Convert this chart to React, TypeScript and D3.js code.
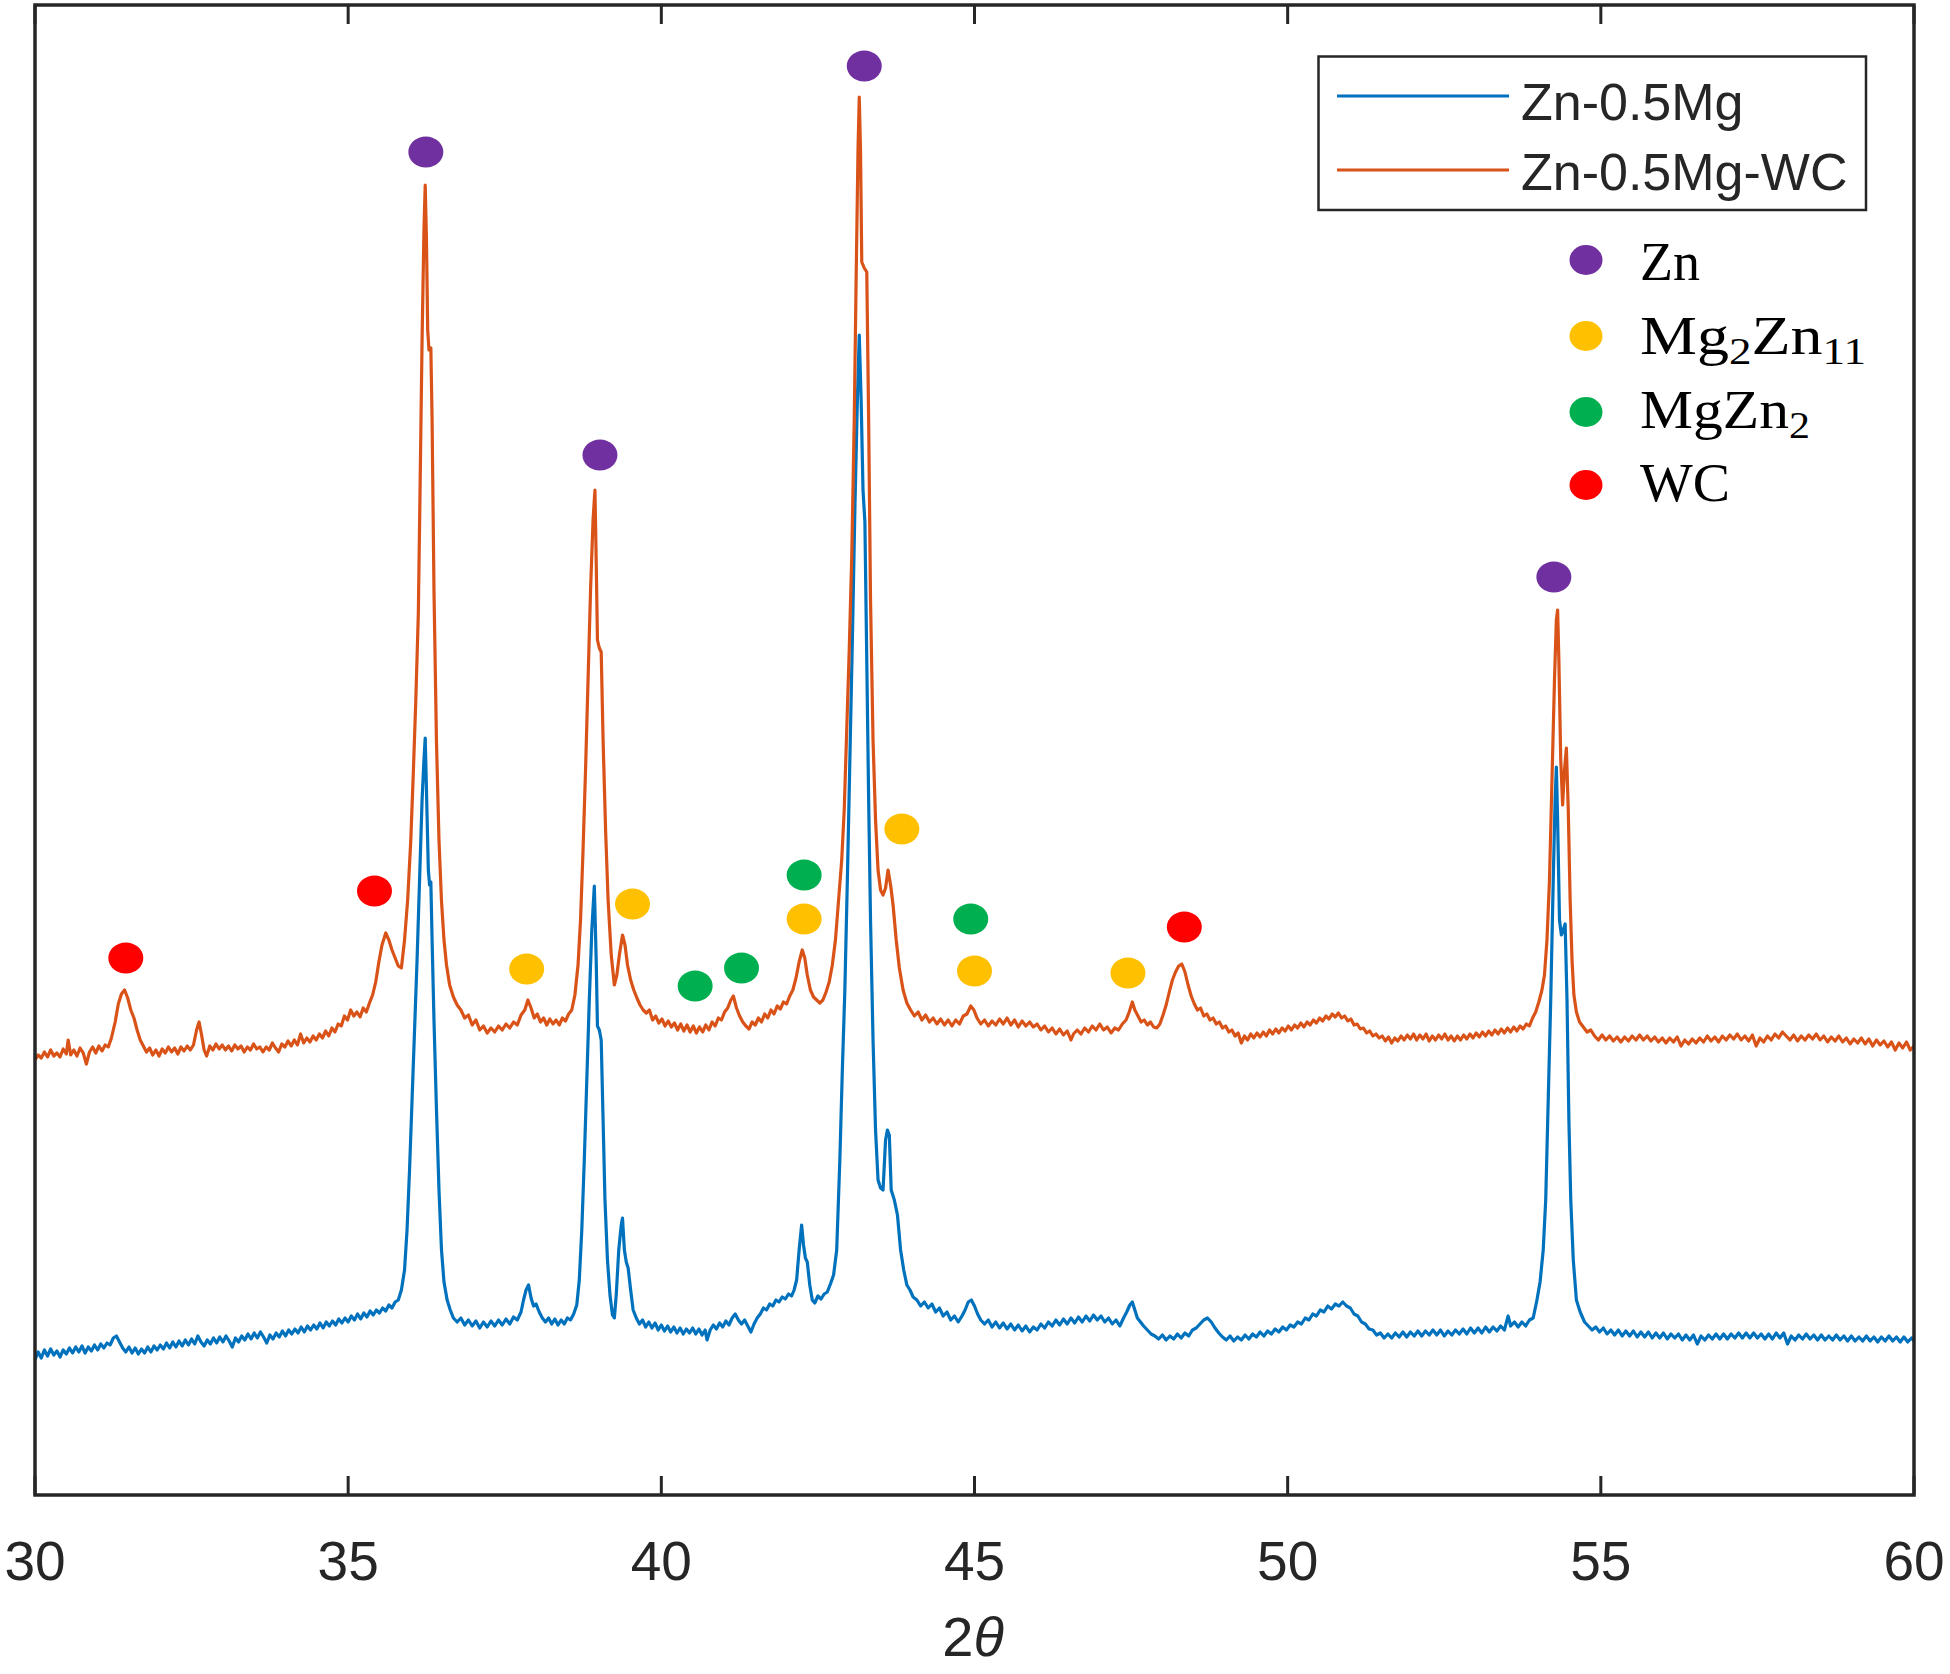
import React from "react";
import * as d3 from "d3";

// ---------------- DATA ----------------
const X_TICKS = [30, 35, 40, 45, 50, 55, 60];
const SERIES_NAMES = ["Zn-0.5Mg", "Zn-0.5Mg-WC"];

// Zn-0.5Mg (blue): [2θ, intensity a.u.]
const ZN_MG: [number, number][] = [
[30.00,140],[30.05,148],[30.10,142],[30.15,150],[30.20,144],[30.25,151],[30.30,145],[30.35,149],[30.40,143],[30.45,150],
[30.50,146],[30.55,152],[30.60,147],[30.65,153],[30.70,148],[30.75,154],[30.80,147],[30.85,153],[30.90,149],[30.95,155],
[31.00,150],[31.05,156],[31.10,152],[31.15,157],[31.20,155],[31.25,162],[31.30,164],[31.35,158],[31.40,152],[31.45,148],
[31.50,153],[31.55,147],[31.60,152],[31.65,146],[31.70,151],[31.75,147],[31.80,153],[31.85,148],[31.90,154],[31.95,150],
[32.00,155],[32.05,151],[32.10,157],[32.15,152],[32.20,158],[32.25,153],[32.30,159],[32.35,154],[32.40,160],[32.45,155],
[32.50,161],[32.55,156],[32.60,164],[32.65,158],[32.70,154],[32.75,160],[32.80,156],[32.85,162],[32.90,157],[32.95,163],
[33.00,158],[33.05,164],[33.10,159],[33.15,153],[33.20,162],[33.25,158],[33.30,164],[33.35,160],[33.40,166],[33.45,161],
[33.50,167],[33.55,162],[33.60,168],[33.65,163],[33.70,157],[33.75,165],[33.80,161],[33.85,167],[33.90,163],[33.95,169],
[34.00,164],[34.05,170],[34.10,166],[34.15,171],[34.20,167],[34.25,173],[34.30,168],[34.35,174],[34.40,170],[34.45,175],
[34.50,171],[34.55,177],[34.60,172],[34.65,178],[34.70,174],[34.75,179],[34.80,175],[34.85,181],[34.90,177],[34.95,182],
[35.00,178],[35.05,184],[35.10,180],[35.15,186],[35.20,181],[35.25,187],[35.30,183],[35.35,189],[35.40,185],[35.45,190],
[35.50,187],[35.55,192],[35.60,189],[35.65,195],[35.70,192],[35.75,198],[35.80,200],[35.85,210],[35.90,230],[35.94,270],
[35.98,330],[36.02,400],[36.06,470],[36.10,540],[36.14,620],[36.18,700],[36.21,740],[36.23,762],[36.25,710],[36.28,630],
[36.30,615],[36.32,618],[36.34,560],[36.37,480],[36.41,390],[36.45,310],[36.49,250],[36.53,218],[36.58,200],[36.63,190],
[36.68,182],[36.74,178],[36.80,182],[36.86,175],[36.92,180],[36.98,174],[37.04,179],[37.10,172],[37.16,178],[37.22,173],
[37.28,179],[37.34,174],[37.40,180],[37.46,175],[37.52,181],[37.58,176],[37.64,183],[37.70,180],[37.76,188],[37.80,200],
[37.84,210],[37.88,215],[37.92,202],[37.96,194],[38.00,196],[38.05,188],[38.10,182],[38.15,178],[38.20,182],[38.25,176],
[38.30,181],[38.35,175],[38.40,180],[38.45,176],[38.50,182],[38.55,180],[38.60,186],[38.65,195],[38.69,220],[38.73,270],
[38.77,340],[38.81,420],[38.85,500],[38.89,570],[38.93,614],[38.96,540],[38.98,474],[39.01,470],[39.04,460],[39.07,380],
[39.10,300],[39.14,240],[39.18,205],[39.22,185],[39.25,182],[39.28,205],[39.32,250],[39.36,275],[39.38,282],[39.41,250],
[39.44,238],[39.47,232],[39.51,210],[39.55,190],[39.60,182],[39.65,176],[39.70,180],[39.75,173],[39.80,178],[39.85,172],
[39.90,177],[39.95,170],[40.00,175],[40.05,169],[40.10,174],[40.15,168],[40.20,173],[40.25,167],[40.30,172],[40.35,166],
[40.40,171],[40.45,167],[40.50,172],[40.55,166],[40.60,171],[40.65,165],[40.70,170],[40.73,160],[40.78,170],[40.83,175],
[40.88,171],[40.93,177],[40.98,173],[41.03,179],[41.08,175],[41.13,182],[41.18,186],[41.23,180],[41.28,176],[41.33,180],
[41.38,174],[41.43,168],[41.48,176],[41.53,182],[41.58,186],[41.63,192],[41.68,190],[41.73,196],[41.78,194],[41.83,200],
[41.88,198],[41.93,203],[41.98,201],[42.03,206],[42.08,204],[42.12,210],[42.16,220],[42.20,250],[42.24,275],[42.27,255],
[42.30,242],[42.33,238],[42.37,215],[42.41,200],[42.45,197],[42.50,204],[42.55,201],[42.60,206],[42.65,208],[42.70,216],
[42.75,225],[42.80,250],[42.85,340],[42.89,430],[42.93,510],[42.97,620],[43.01,740],[43.05,860],[43.09,990],[43.13,1100],
[43.16,1165],[43.19,1100],[43.22,1010],[43.25,978],[43.28,840],[43.31,700],[43.34,580],[43.38,460],[43.42,370],[43.46,320],
[43.50,312],[43.54,310],[43.58,360],[43.61,370],[43.64,365],[43.67,310],[43.72,300],[43.77,285],[43.82,250],[43.87,230],
[43.92,215],[43.97,210],[44.02,203],[44.08,200],[44.14,194],[44.20,198],[44.26,192],[44.32,196],[44.38,188],[44.44,192],
[44.50,184],[44.56,188],[44.62,180],[44.68,184],[44.74,178],[44.80,184],[44.85,190],[44.90,198],[44.95,200],[45.00,194],
[45.05,186],[45.10,180],[45.16,176],[45.22,180],[45.28,173],[45.34,178],[45.40,172],[45.46,177],[45.52,171],[45.58,176],
[45.64,170],[45.70,175],[45.76,169],[45.82,174],[45.88,168],[45.94,173],[46.00,170],[46.06,176],[46.12,172],[46.18,178],
[46.24,174],[46.30,180],[46.36,175],[46.42,181],[46.48,176],[46.54,182],[46.60,177],[46.66,183],[46.72,178],[46.78,184],
[46.84,179],[46.90,185],[46.96,180],[47.02,184],[47.08,178],[47.14,182],[47.20,176],[47.26,180],[47.32,174],[47.38,182],
[47.43,188],[47.48,195],[47.52,198],[47.56,190],[47.60,182],[47.65,178],[47.70,174],[47.76,170],[47.82,166],[47.88,164],
[47.94,161],[48.00,165],[48.06,160],[48.12,164],[48.18,161],[48.24,166],[48.30,162],[48.36,167],[48.42,164],[48.48,170],
[48.54,172],[48.60,176],[48.66,180],[48.72,182],[48.78,178],[48.84,172],[48.90,167],[48.96,163],[49.02,160],[49.08,164],
[49.14,159],[49.20,163],[49.26,160],[49.32,165],[49.38,161],[49.44,166],[49.50,163],[49.56,168],[49.62,164],[49.68,169],
[49.74,166],[49.80,171],[49.86,168],[49.92,173],[49.98,170],[50.04,175],[50.10,173],[50.16,178],[50.22,176],[50.28,182],
[50.34,180],[50.40,186],[50.46,184],[50.52,190],[50.58,188],[50.64,194],[50.70,191],[50.76,196],[50.82,194],[50.88,198],
[50.94,194],[51.00,192],[51.06,186],[51.12,184],[51.18,178],[51.24,176],[51.30,171],[51.36,170],[51.42,165],[51.48,167],
[51.54,162],[51.60,166],[51.66,162],[51.72,167],[51.78,163],[51.84,168],[51.90,163],[51.96,168],[52.02,164],[52.08,169],
[52.14,164],[52.20,169],[52.26,165],[52.32,170],[52.38,165],[52.44,170],[52.50,164],[52.56,169],[52.62,165],[52.68,170],
[52.74,166],[52.80,171],[52.86,166],[52.92,172],[52.98,167],[53.04,172],[53.10,167],[53.16,173],[53.22,168],[53.28,173],
[53.34,169],[53.40,174],[53.46,170],[53.52,184],[53.56,174],[53.62,178],[53.68,173],[53.74,178],[53.80,174],[53.86,180],
[53.92,182],[53.98,200],[54.03,218],[54.08,250],[54.12,300],[54.16,400],[54.20,500],[54.24,620],[54.27,700],[54.29,733],
[54.31,680],[54.34,580],[54.37,565],[54.40,570],[54.43,576],[54.46,500],[54.49,380],[54.52,300],[54.56,240],[54.61,200],
[54.67,188],[54.74,178],[54.80,174],[54.86,170],[54.92,173],[54.98,168],[55.04,172],[55.10,166],[55.16,170],[55.22,165],
[55.28,170],[55.34,164],[55.40,169],[55.46,164],[55.52,169],[55.58,163],[55.64,168],[55.70,163],[55.76,168],[55.82,162],
[55.88,167],[55.94,162],[56.00,167],[56.06,161],[56.12,166],[56.18,162],[56.24,166],[56.30,160],[56.36,165],[56.42,160],
[56.48,165],[56.54,156],[56.60,164],[56.66,160],[56.72,165],[56.78,161],[56.84,166],[56.90,161],[56.96,166],[57.02,161],
[57.08,166],[57.14,162],[57.20,167],[57.26,162],[57.32,167],[57.38,162],[57.44,167],[57.50,162],[57.56,166],[57.62,161],
[57.68,166],[57.74,161],[57.80,167],[57.86,162],[57.92,167],[57.98,156],[58.04,164],[58.10,160],[58.16,165],[58.22,161],
[58.28,166],[58.34,161],[58.40,165],[58.46,160],[58.52,165],[58.58,160],[58.64,164],[58.70,160],[58.76,165],[58.82,160],
[58.88,164],[58.94,159],[59.00,164],[59.06,159],[59.12,163],[59.18,159],[59.24,164],[59.30,159],[59.36,163],[59.42,158],
[59.48,163],[59.54,159],[59.60,164],[59.66,159],[59.72,163],[59.78,158],[59.84,163],[59.90,158],[59.96,162],[60.00,159]
];

// Zn-0.5Mg-WC (orange): [2θ, intensity a.u.]
const ZN_MG_WC: [number, number][] = [
[30.00,440],[30.05,445],[30.10,442],[30.15,448],[30.20,443],[30.25,450],[30.30,444],[30.35,447],[30.40,443],[30.45,451],
[30.50,446],[30.53,460],[30.57,445],[30.62,450],[30.67,444],[30.72,452],[30.77,447],[30.82,436],[30.87,448],[30.92,453],
[30.97,447],[31.02,454],[31.07,449],[31.12,455],[31.17,453],[31.22,462],[31.28,478],[31.33,496],[31.38,506],[31.43,510],
[31.48,502],[31.53,490],[31.58,482],[31.63,470],[31.68,460],[31.73,454],[31.78,448],[31.83,452],[31.88,445],[31.93,450],
[31.98,444],[32.03,451],[32.08,447],[32.13,453],[32.18,448],[32.23,452],[32.28,446],[32.33,453],[32.38,449],[32.43,454],
[32.48,450],[32.53,455],[32.58,470],[32.62,478],[32.66,465],[32.70,450],[32.74,444],[32.79,454],[32.84,450],[32.89,456],
[32.94,451],[32.99,455],[33.04,450],[33.09,454],[33.14,449],[33.19,455],[33.24,451],[33.29,454],[33.34,448],[33.39,453],
[33.44,450],[33.49,456],[33.54,451],[33.59,453],[33.64,448],[33.69,453],[33.74,450],[33.79,457],[33.84,452],[33.89,448],
[33.94,456],[33.99,453],[34.04,459],[34.09,454],[34.14,460],[34.19,455],[34.24,466],[34.29,457],[34.34,462],[34.39,458],
[34.44,464],[34.49,460],[34.54,466],[34.59,462],[34.64,469],[34.69,464],[34.74,472],[34.79,468],[34.84,476],[34.89,474],
[34.94,484],[34.99,480],[35.04,490],[35.09,484],[35.14,488],[35.19,483],[35.24,492],[35.29,488],[35.34,497],[35.39,505],
[35.44,518],[35.49,538],[35.54,555],[35.60,567],[35.65,560],[35.70,550],[35.75,542],[35.80,534],[35.85,532],[35.90,560],
[35.95,600],[36.00,660],[36.04,727],[36.08,800],[36.12,886],[36.15,1020],[36.18,1160],[36.21,1270],[36.23,1315],[36.25,1260],
[36.27,1170],[36.29,1150],[36.32,1152],[36.34,1080],[36.37,910],[36.41,758],[36.45,660],[36.49,599],[36.53,560],[36.57,535],
[36.62,515],[36.68,503],[36.74,495],[36.80,490],[36.86,482],[36.92,485],[36.98,475],[37.04,480],[37.10,470],[37.16,474],
[37.22,467],[37.28,472],[37.34,468],[37.40,474],[37.46,470],[37.52,476],[37.58,472],[37.64,478],[37.70,475],[37.76,485],
[37.82,490],[37.87,500],[37.92,492],[37.97,482],[38.02,486],[38.07,478],[38.12,482],[38.17,475],[38.22,481],[38.27,476],
[38.32,480],[38.37,475],[38.42,482],[38.47,479],[38.52,486],[38.57,490],[38.62,505],[38.67,535],[38.71,580],[38.75,650],
[38.79,730],[38.83,820],[38.87,910],[38.91,980],[38.94,1010],[38.96,940],[38.98,860],[39.01,852],[39.04,848],[39.07,760],
[39.11,670],[39.15,600],[39.20,545],[39.25,515],[39.29,525],[39.33,545],[39.38,565],[39.42,555],[39.46,535],[39.51,520],
[39.56,510],[39.61,502],[39.66,495],[39.71,490],[39.76,487],[39.81,490],[39.86,480],[39.91,484],[39.96,477],[40.01,481],
[40.06,474],[40.11,479],[40.16,473],[40.21,477],[40.26,470],[40.31,476],[40.36,469],[40.41,475],[40.46,468],[40.51,474],
[40.56,467],[40.61,473],[40.66,468],[40.71,475],[40.76,470],[40.81,478],[40.86,474],[40.91,482],[40.96,480],[41.01,488],
[41.06,492],[41.11,500],[41.15,504],[41.20,492],[41.25,484],[41.30,478],[41.35,474],[41.40,471],[41.45,478],[41.50,475],
[41.55,482],[41.60,478],[41.65,486],[41.70,482],[41.75,490],[41.80,486],[41.85,494],[41.90,491],[41.95,498],[42.00,496],
[42.05,504],[42.10,510],[42.15,522],[42.20,538],[42.25,550],[42.29,542],[42.33,525],[42.38,510],[42.43,503],[42.48,500],
[42.53,497],[42.58,500],[42.63,508],[42.68,518],[42.73,535],[42.78,560],[42.83,600],[42.88,640],[42.92,690],[42.96,770],
[43.00,850],[43.04,943],[43.08,1080],[43.11,1220],[43.14,1350],[43.16,1403],[43.18,1350],[43.20,1238],[43.24,1232],[43.28,1228],
[43.31,1080],[43.34,900],[43.38,760],[43.42,680],[43.46,630],[43.50,610],[43.54,605],[43.58,612],[43.62,630],[43.66,615],
[43.70,595],[43.75,560],[43.80,532],[43.86,510],[43.92,497],[43.98,490],[44.04,484],[44.10,488],[44.16,480],[44.22,485],
[44.28,478],[44.34,482],[44.40,476],[44.46,481],[44.52,475],[44.58,480],[44.64,474],[44.70,480],[44.76,476],[44.82,484],
[44.88,486],[44.94,494],[44.99,490],[45.04,482],[45.10,476],[45.16,480],[45.22,474],[45.28,479],[45.34,475],[45.40,481],
[45.46,476],[45.52,482],[45.58,475],[45.64,480],[45.70,473],[45.76,479],[45.82,474],[45.88,478],[45.94,473],[46.00,476],
[46.06,470],[46.12,474],[46.18,468],[46.24,472],[46.30,466],[46.36,471],[46.42,465],[46.48,469],[46.54,460],[46.58,466],
[46.64,470],[46.70,466],[46.76,472],[46.82,468],[46.88,474],[46.94,470],[47.00,476],[47.06,470],[47.12,473],[47.18,467],
[47.24,472],[47.30,470],[47.36,476],[47.42,480],[47.47,488],[47.52,498],[47.56,490],[47.61,484],[47.66,478],[47.71,480],
[47.76,475],[47.81,478],[47.86,473],[47.91,472],[47.96,476],[48.01,485],[48.06,495],[48.11,508],[48.16,520],[48.21,528],
[48.26,534],[48.31,536],[48.36,528],[48.41,515],[48.46,504],[48.51,496],[48.56,490],[48.61,492],[48.66,484],[48.71,486],
[48.76,480],[48.81,482],[48.86,476],[48.91,478],[48.96,472],[49.01,474],[49.06,468],[49.11,470],[49.16,464],[49.21,467],
[49.26,457],[49.31,464],[49.36,460],[49.41,466],[49.46,462],[49.51,467],[49.56,463],[49.61,468],[49.66,464],[49.71,470],
[49.76,466],[49.81,471],[49.86,467],[49.91,472],[49.96,469],[50.01,474],[50.06,470],[50.11,475],[50.16,472],[50.21,477],
[50.26,473],[50.31,478],[50.36,475],[50.41,480],[50.46,477],[50.51,482],[50.56,479],[50.61,484],[50.66,481],[50.71,486],
[50.76,483],[50.81,487],[50.86,482],[50.91,484],[50.96,479],[51.01,481],[51.06,475],[51.11,476],[51.16,471],[51.21,472],
[51.26,467],[51.31,469],[51.36,464],[51.41,466],[51.46,462],[51.51,464],[51.56,459],[51.61,463],[51.66,457],[51.71,462],
[51.76,459],[51.81,464],[51.86,460],[51.91,465],[51.96,461],[52.01,466],[52.06,460],[52.11,465],[52.16,461],[52.21,466],
[52.26,459],[52.31,464],[52.36,460],[52.41,465],[52.46,461],[52.51,466],[52.56,460],[52.61,464],[52.66,459],[52.71,464],
[52.76,460],[52.81,465],[52.86,461],[52.91,466],[52.96,462],[53.01,467],[53.06,463],[53.11,468],[53.16,464],[53.21,469],
[53.26,465],[53.31,470],[53.36,466],[53.41,471],[53.46,467],[53.51,472],[53.56,468],[53.61,473],[53.66,469],[53.71,474],
[53.76,471],[53.81,476],[53.86,474],[53.91,482],[53.96,488],[54.01,498],[54.06,510],[54.10,525],[54.14,560],[54.18,620],
[54.22,720],[54.26,820],[54.29,880],[54.31,890],[54.33,840],[54.36,740],[54.39,695],[54.42,730],[54.45,752],[54.48,690],
[54.51,600],[54.54,540],[54.57,505],[54.61,488],[54.66,478],[54.72,473],[54.78,468],[54.84,470],[54.90,464],[54.96,460],
[55.02,465],[55.08,460],[55.14,464],[55.20,459],[55.26,463],[55.32,458],[55.38,463],[55.44,459],[55.50,464],[55.56,460],
[55.62,465],[55.68,460],[55.74,464],[55.80,459],[55.86,463],[55.92,458],[55.98,462],[56.04,457],[56.10,462],[56.16,458],
[56.22,463],[56.28,454],[56.34,460],[56.40,456],[56.46,461],[56.52,457],[56.58,462],[56.64,458],[56.70,464],[56.76,459],
[56.82,463],[56.88,458],[56.94,464],[57.00,460],[57.06,465],[57.12,461],[57.18,466],[57.24,460],[57.30,464],[57.36,459],
[57.42,465],[57.48,454],[57.54,462],[57.60,458],[57.66,464],[57.72,460],[57.78,466],[57.84,462],[57.90,468],[57.96,464],
[58.02,460],[58.08,465],[58.14,459],[58.20,464],[58.26,460],[58.32,465],[58.38,461],[58.44,466],[58.50,460],[58.56,464],
[58.62,458],[58.68,463],[58.74,459],[58.80,464],[58.86,458],[58.92,462],[58.98,456],[59.04,461],[59.10,457],[59.16,462],
[59.22,456],[59.28,461],[59.34,454],[59.40,460],[59.46,455],[59.52,459],[59.58,453],[59.64,458],[59.70,450],[59.76,457],
[59.82,452],[59.88,458],[59.94,450],[60.00,454]
];

// Phase markers: [2θ, marker height a.u.]
const PHASE_NAMES = ["Zn", "Mg2Zn11", "MgZn2", "WC"];
const PHASE_COLORS = ["#7030A0", "#FFC000", "#00B050", "#FF0000"];
const ZN_MARKS: [number, number][] = [[36.24, 1348], [39.02, 1045], [43.24, 1434], [54.25, 923]];
const MG2ZN11_MARKS: [number, number][] = [[37.85, 531], [39.54, 596], [42.28, 581], [43.84, 671], [45.0, 529], [47.45, 527]];
const MGZN2_MARKS: [number, number][] = [[40.54, 514], [41.28, 532], [42.28, 625], [44.94, 581]];
const WC_MARKS: [number, number][] = [[31.45, 542], [35.42, 609], [48.35, 573]];

// ---------------- LAYOUT ----------------
const W = 1950, H = 1674;
const L = 35, R = 1914, T = 5, B = 1495;
const BLUE = "#0072BD", ORANGE = "#D95319", AXIS = "#262626";
const SANS = "'Liberation Sans', Arial, Helvetica, sans-serif";
const SERIF = "'Liberation Serif', 'Times New Roman', serif";

export default function App() {
  const x = d3.scaleLinear().domain([30, 60]).range([L, R]);
  const y = d3.scaleLinear().domain([0, 1500]).range([1500, 0]);
  const line = d3.line<[number, number]>().x(d => x(d[0])).y(d => y(d[1]));
  const markSets = [ZN_MARKS, MG2ZN11_MARKS, MGZN2_MARKS, WC_MARKS];

  const legendRows = [260, 336, 412, 485];
  const legendBase = [280, 354, 428, 501];

  return (
    <svg width={W} height={H} viewBox={`0 0 ${W} ${H}`}
      style={{ position: "absolute", left: 0, top: 0, background: "#fff" }}>
      <rect x={0} y={0} width={W} height={H} fill="#fff" />
      {/* curves */}
      <path d={line(ZN_MG) || ""} fill="none" stroke={BLUE} strokeWidth={3.2} strokeLinejoin="round" />
      <path d={line(ZN_MG_WC) || ""} fill="none" stroke={ORANGE} strokeWidth={3.2} strokeLinejoin="round" />
      {/* phase markers */}
      {markSets.map((set, i) => set.map((d, j) => (
        <ellipse key={`m${i}-${j}`} cx={x(d[0])} cy={y(d[1])} rx={17.5} ry={15.5} fill={PHASE_COLORS[i]} />
      )))}
      {/* frame */}
      <rect x={L} y={T} width={R - L} height={B - T} fill="none" stroke={AXIS} strokeWidth={3.5} />
      {X_TICKS.map(t => (
        <g key={`t${t}`}>
          <line x1={x(t)} x2={x(t)} y1={B} y2={B - 19} stroke={AXIS} strokeWidth={3} />
          <line x1={x(t)} x2={x(t)} y1={T} y2={T + 19} stroke={AXIS} strokeWidth={3} />
          <text x={x(t)} y={1580} textAnchor="middle" fontFamily={SANS} fontSize={55} fill={AXIS}>{t}</text>
        </g>
      ))}
      <text x={973} y={1656} textAnchor="middle" fontFamily={SANS} fontSize={56} fill={AXIS}>
        2<tspan fontStyle="italic">θ</tspan>
      </text>
      {/* series legend */}
      <rect x={1318.5} y={56.5} width={547.5} height={153.5} fill="#fff" stroke={AXIS} strokeWidth={2.5} />
      <line x1={1337} x2={1509} y1={96} y2={96} stroke={BLUE} strokeWidth={3} />
      <text x={1521} y={120} fontFamily={SANS} fontSize={52} fill={AXIS}>{SERIES_NAMES[0]}</text>
      <line x1={1337} x2={1509} y1={170} y2={170} stroke={ORANGE} strokeWidth={3} />
      <text x={1521} y={190} fontFamily={SANS} fontSize={52} fill={AXIS}>{SERIES_NAMES[1]}</text>
      {/* phase legend */}
      {PHASE_NAMES.map((n, i) => (
        <ellipse key={`lm${i}`} cx={1586} cy={legendRows[i]} rx={16.5} ry={15} fill={PHASE_COLORS[i]} />
      ))}
      <text x={1640} y={legendBase[0]} fontFamily={SERIF} fontSize={54} fill="#000"
        textLength={60} lengthAdjust="spacingAndGlyphs">Zn</text>
      <text x={1640} y={legendBase[1]} fontFamily={SERIF} fontSize={54} fill="#000"
        textLength={226} lengthAdjust="spacingAndGlyphs">
        Mg<tspan fontSize={38} dy={10}>2</tspan><tspan dy={-10}>Zn</tspan><tspan fontSize={38} dy={10}>11</tspan>
      </text>
      <text x={1640} y={legendBase[2]} fontFamily={SERIF} fontSize={54} fill="#000"
        textLength={170} lengthAdjust="spacingAndGlyphs">
        MgZn<tspan fontSize={38} dy={10}>2</tspan>
      </text>
      <text x={1640} y={legendBase[3]} fontFamily={SERIF} fontSize={54} fill="#000"
        textLength={90} lengthAdjust="spacingAndGlyphs">WC</text>
    </svg>
  );
}
